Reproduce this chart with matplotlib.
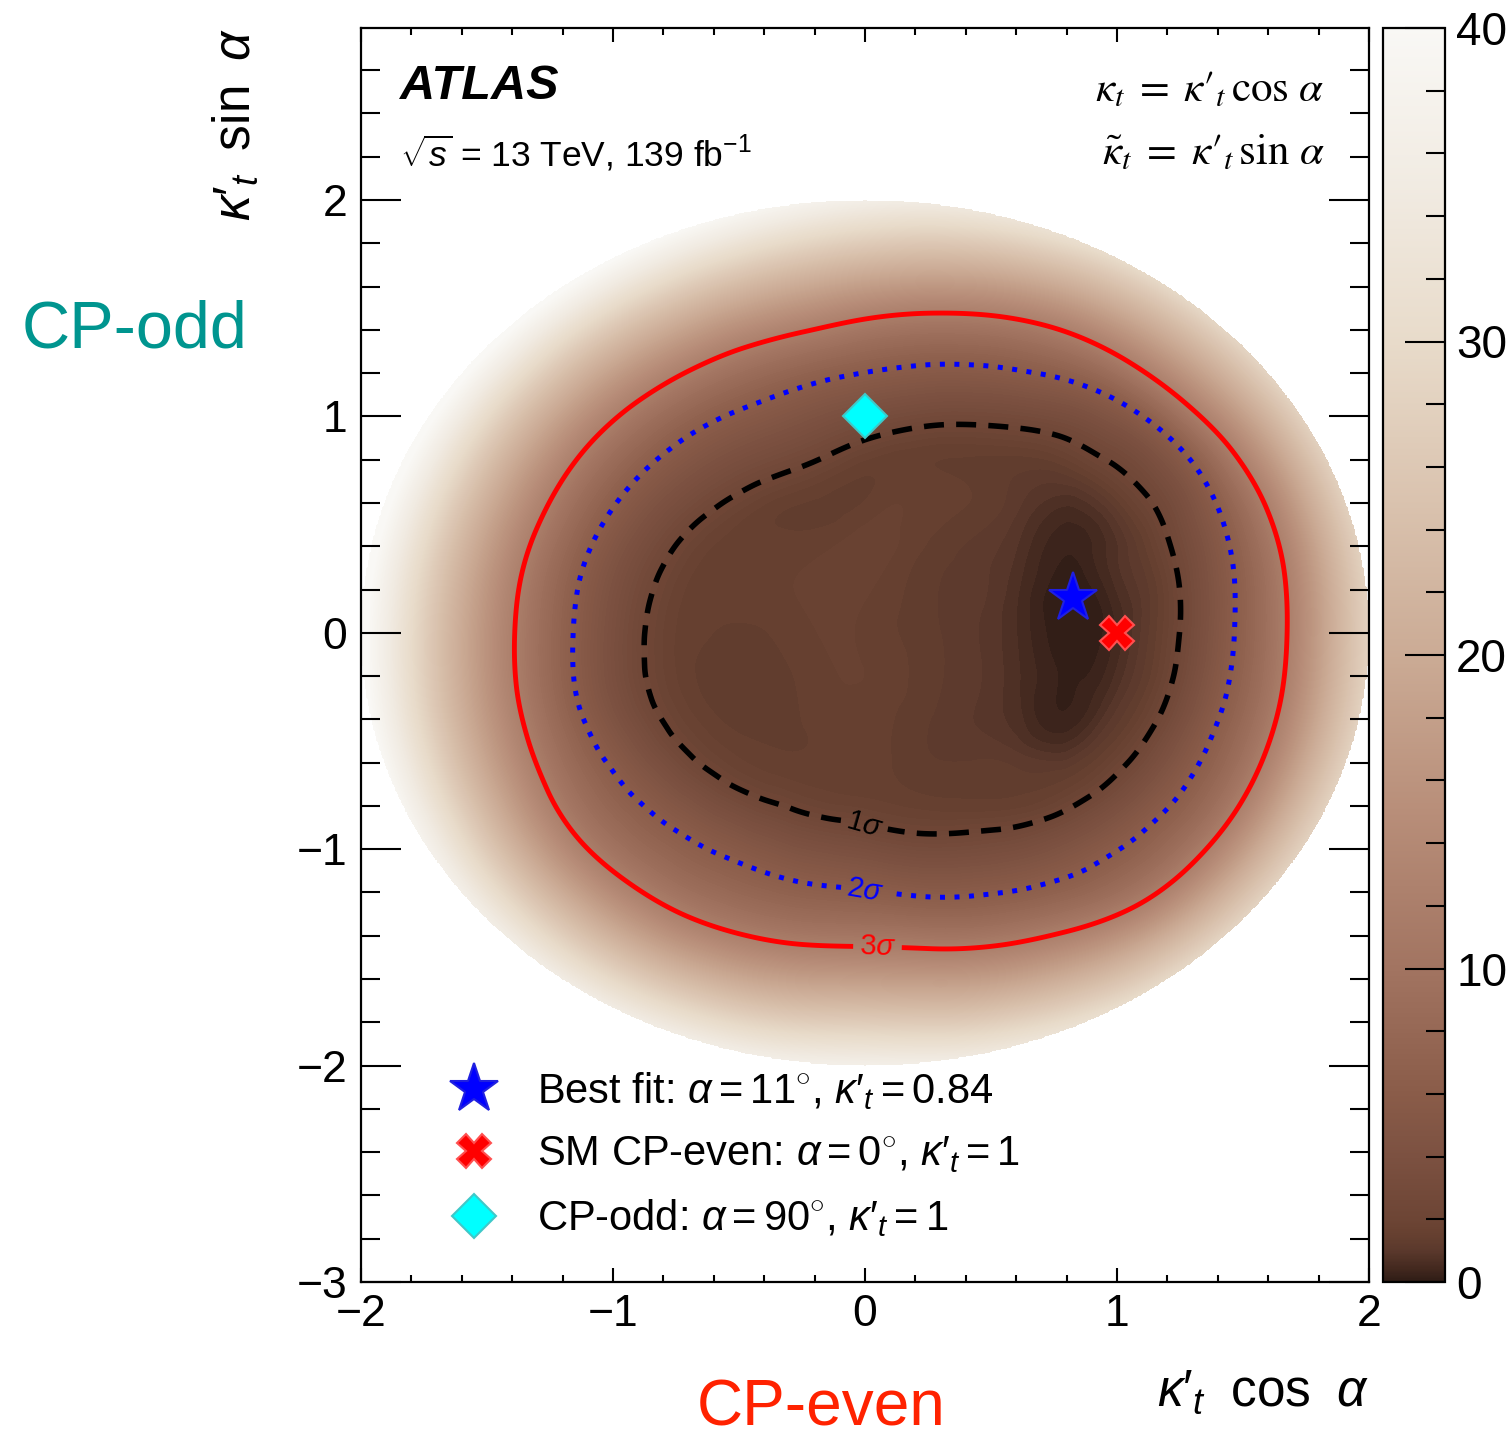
import numpy as np
import matplotlib
matplotlib.use("Agg")
import matplotlib.pyplot as plt
import matplotlib.tri as mtri
from matplotlib.path import Path
from matplotlib.colors import LinearSegmentedColormap, Normalize
from matplotlib.cm import ScalarMappable
from matplotlib.ticker import MultipleLocator

plt.rcParams['font.family'] = ['Liberation Sans', 'DejaVu Sans']
plt.rcParams['mathtext.fontset'] = 'custom'
plt.rcParams['mathtext.rm'] = 'Liberation Sans'
plt.rcParams['mathtext.it'] = 'Liberation Sans:italic'
plt.rcParams['mathtext.bf'] = 'Liberation Sans:bold'

# ---------------- data ----------------
# scan direction alpha (deg) and the kappa'_t radius where -2 dlnL crosses each level
alpha_deg = np.arange(0, 360, 10)
r_1sigma = [1.248, 1.266, 1.280, 1.285, 1.246, 1.190, 1.100, 1.025, 0.955, 0.892, 0.834, 0.806,
            0.810, 0.820, 0.835, 0.851, 0.860, 0.866, 0.874, 0.888, 0.901, 0.900, 0.894, 0.884,
            0.872, 0.863, 0.870, 0.884, 0.935, 0.987, 1.050, 1.120, 1.170, 1.203, 1.226, 1.240]
r_2sigma = [1.466, 1.488, 1.511, 1.520, 1.497, 1.452, 1.383, 1.316, 1.255, 1.203, 1.170, 1.147,
            1.146, 1.149, 1.152, 1.155, 1.158, 1.158, 1.158, 1.174, 1.186, 1.188, 1.189, 1.183,
            1.177, 1.176, 1.180, 1.188, 1.236, 1.292, 1.353, 1.405, 1.435, 1.455, 1.457, 1.462]
r_3sigma = [1.675, 1.688, 1.694, 1.683, 1.656, 1.632, 1.604, 1.556, 1.500, 1.450, 1.412, 1.402,
            1.398, 1.399, 1.399, 1.393, 1.389, 1.389, 1.390, 1.405, 1.425, 1.455, 1.483, 1.488,
            1.489, 1.478, 1.462, 1.450, 1.482, 1.538, 1.595, 1.656, 1.680, 1.686, 1.683, 1.678]
# -2 dlnL just inside the 1 sigma line, midway between 3 sigma and kappa'=2, and at kappa'=2
nll_inner_ring = [1.2, 1.2, 1.25, 1.3, 1.35, 1.45, 1.5, 1.5, 1.5, 1.5, 1.5, 1.5,
                  1.5, 1.55, 1.6, 1.6, 1.6, 1.6, 1.6, 1.6, 1.6, 1.6, 1.6, 1.6,
                  1.6, 1.6, 1.6, 1.6, 1.6, 1.55, 1.5, 1.45, 1.4, 1.3, 1.25, 1.2]
nll_outer_mid = [19.5, 19.3, 19.2, 19.3, 19.6, 19.9, 20.2, 21.0, 22.0, 23.0, 23.6, 24.0,
                 24.2, 24.2, 24.3, 24.4, 24.5, 24.5, 24.4, 24.0, 23.5, 23.0, 22.5, 22.2,
                 22.2, 22.4, 22.7, 23.0, 22.2, 21.3, 20.4, 19.8, 19.4, 19.3, 19.3, 19.4]
nll_edge = [28.5, 28.2, 28.0, 28.3, 28.9, 29.6, 30.5, 32.5, 34.5, 36.5, 38.5, 40.0,
            40.8, 41.2, 41.4, 41.6, 41.8, 41.9, 41.8, 40.8, 39.5, 37.8, 36.3, 35.6,
            35.4, 35.8, 36.3, 36.8, 35.2, 33.0, 30.8, 29.3, 28.5, 28.2, 28.3, 28.4]
# interior structure inside the 1 sigma region
inner_x = [0.825, 0.80, 0.78, 0.78, 1.0, 1.0, 0.98, 0.6, 0.6, 0.6, 0.6,
           0.3, 0.3, 0.3, 0.2, 0.45, 0.45,
           -0.03, 0.0, -0.1, -0.35, -0.45, 0.15,
           -0.5, -0.65, -0.3, 0.05]
inner_y = [0.16, 0.45, -0.15, -0.45, 0.0, 0.3, -0.3, 0.2, -0.2, 0.55, -0.55,
           0.4, 0.0, -0.4, -0.65, 0.7, -0.7,
           0.5, 0.15, -0.2, 0.2, 0.45, 0.7,
           -0.25, 0.05, -0.55, -0.6]
inner_nll = [0.0, 0.3, 0.15, 0.35, 0.45, 0.75, 0.75, 0.65, 0.65, 1.0, 1.0,
             1.3, 1.2, 1.15, 1.3, 1.35, 1.3,
             1.55, 1.6, 1.6, 1.55, 1.5, 1.5,
             1.2, 1.45, 1.4, 1.45]

sigma_levels = [2.30, 6.18, 11.83]
sigma_names = [r'$\mathit{1}\sigma$', r'$\mathit{2}\sigma$', r'$\mathit{3}\sigma$']

# reference points: alpha (deg), kappa'_t
point_names = ['Best fit: $\\alpha = 11^{\\circ}$, $\\kappa\\prime_{t} = 0.84$',
               'SM CP-even: $\\alpha = 0^{\\circ}$, $\\kappa\\prime_{t} = 1$',
               'CP-odd: $\\alpha = 90^{\\circ}$, $\\kappa\\prime_{t} = 1$']
point_alpha = [11, 0, 90]
point_kappa = [0.84, 1.0, 1.0]

cbar_ticks = [0, 10, 20, 30, 40]
# colour palette (value -> colour)
pal_values = [0, 0.5, 1, 1.5, 2, 4, 6, 10, 15, 20, 25, 30, 35, 40]
pal_colors = ['#2e1c15', '#472b21', '#5b392c', '#664030', '#6d4535', '#7c5141', '#8a5c49',
              '#a27461', '#b88e79', '#cbab95', '#dac3af', '#e8dbca', '#f1ebe2', '#f9f8f5']

# ---------------- build the field ----------------
a = np.deg2rad(alpha_deg)
n = len(a)
r1, r2, r3 = np.array(r_1sigma), np.array(r_2sigma), np.array(r_3sigma)
r_edge_node = np.full(n, 2.0 / np.cos(np.pi / n))
ring_r = [r1 - 0.12, r1, r2, r3, (r3 + 2.0) / 2, r_edge_node]
ring_v = [np.array(nll_inner_ring), np.full(n, sigma_levels[0]), np.full(n, sigma_levels[1]),
          np.full(n, sigma_levels[2]), np.array(nll_outer_mid), np.array(nll_edge)]
nr = len(ring_r)
ix, iy = np.array(inner_x), np.array(inner_y)
px = np.concatenate([r * np.cos(a) for r in ring_r] + [ix])
py = np.concatenate([r * np.sin(a) for r in ring_r] + [iy])
pz = np.concatenate(ring_v + [np.array(inner_nll)])

# structured triangles between the rings
tris = []
for j in range(nr - 1):
    for i in range(n):
        i2 = (i + 1) % n
        p00, p01 = j * n + i, j * n + i2
        p10, p11 = (j + 1) * n + i, (j + 1) * n + i2
        tris.append([p00, p10, p11])
        tris.append([p00, p11, p01])
# Delaunay inside the innermost ring
sub_idx = np.concatenate([np.arange(n), nr * n + np.arange(len(ix))])
dt = mtri.Triangulation(px[sub_idx], py[sub_idx])
ring_path = Path(np.column_stack([px[:n], py[:n]]))
cent = np.column_stack([px[sub_idx][dt.triangles].mean(axis=1), py[sub_idx][dt.triangles].mean(axis=1)])
keep = ring_path.contains_points(cent)
tris.extend(sub_idx[dt.triangles[keep]].tolist())
tri = mtri.Triangulation(px, py, triangles=np.array(tris))

interp = mtri.CubicTriInterpolator(tri, pz, kind='min_E')
g = np.linspace(-2.0, 2.0, 701)
GX, GY = np.meshgrid(g, g)
Z = interp(GX, GY)
Z = np.ma.masked_where((GX**2 + GY**2) > 4.0, Z)
Zfill = np.ma.clip(Z, 0.0, 39.99)

cmap = LinearSegmentedColormap.from_list(
    'atlas_brown', [(v / 40.0, c) for v, c in zip(pal_values, pal_colors)], N=1024)
norm = Normalize(0, 40)

# ---------------- figure ----------------
fig = plt.figure(figsize=(15.12, 14.35), dpi=100)
ax = fig.add_axes([361 / 1512, 1 - 1282 / 1435, 1008 / 1512, 1254 / 1435])
cax = fig.add_axes([1383 / 1512, 1 - 1282 / 1435, 62 / 1512, 1254 / 1435])

cf = ax.contourf(GX, GY, Zfill, levels=np.linspace(0, 40, 201), cmap=cmap, norm=norm)

styles = [dict(colors='black', linewidths=4.0, linestyles=[(0, (3.6, 2.2))]),
          dict(colors='#0000ff', linewidths=3.6, linestyles=[(0, (1.0, 1.9))]),
          dict(colors='#ff0000', linewidths=3.5, linestyles=['solid'])]
label_pos = [(0.0, -0.88), (0.0, -1.19), (0.05, -1.44)]
for lev, name, st, lp in zip(sigma_levels, sigma_names, styles, label_pos):
    cs = ax.contour(GX, GY, Z, levels=[lev], **st)
    ax.clabel(cs, fmt={lev: name}, manual=[lp], inline=True, inline_spacing=6, fontsize=21)

# reference points
pa = np.deg2rad(point_alpha)
pk = np.array(point_kappa)
ptx, pty = pk * np.cos(pa), pk * np.sin(pa)
marker_styles = [dict(marker='*', markersize=37, color='#0000ff', markeredgecolor='#2020e0', markeredgewidth=1.5),
                 dict(marker='X', markersize=24, color='#ff0000', markeredgecolor='#ff5050', markeredgewidth=1.5),
                 dict(marker='D', markersize=22, color='#00ffff', markeredgecolor='#40c8c8', markeredgewidth=1.5)]
handles = []
for x, y, name, ms in zip(ptx, pty, point_names, marker_styles):
    h, = ax.plot([x], [y], linestyle='none', label=name, zorder=5, **ms)
    handles.append(h)

leg = ax.legend(handles=handles, loc='lower left', bbox_to_anchor=(0.081, 0.034),
                frameon=False, fontsize=30, handlelength=1.5, handletextpad=0.76,
                labelspacing=0.54, borderpad=0, borderaxespad=0)

ax.set_xlim(-2, 2)
ax.set_ylim(-3, 2.795)
ax.xaxis.set_major_locator(MultipleLocator(1))
ax.xaxis.set_minor_locator(MultipleLocator(0.2))
ax.yaxis.set_major_locator(MultipleLocator(1))
ax.yaxis.set_minor_locator(MultipleLocator(0.2))
ax.tick_params(which='both', direction='in', top=True, right=True, width=1.5, colors='black')
ax.tick_params(axis='x', which='major', length=10, pad=9, labelsize=32)
ax.tick_params(axis='x', which='minor', length=5)
ax.tick_params(axis='y', which='major', length=29, pad=10, labelsize=32)
ax.tick_params(axis='y', which='minor', length=14)
for s in ax.spines.values():
    s.set_linewidth(1.6)

ax.set_xlabel(r'$\kappa\prime_{t}\;$ cos $\;\alpha$', fontsize=37, loc='right')
ax.xaxis.set_label_coords(1.0, -0.068)
ax.set_ylabel(r'$\kappa\prime_{t}\:$ sin $\:\alpha$', fontsize=37, loc='top')
ax.yaxis.set_label_coords(-0.1, 1.0)

ax.text(0.039, 0.953, 'ATLAS', transform=ax.transAxes, fontsize=35,
        fontweight='bold', fontstyle='italic', va='center', ha='left')
ax.text(0.039, 0.900, r'$\sqrt{s}$ = 13 TeV, 139 fb$^{-1}$', transform=ax.transAxes,
        fontsize=25.5, va='center', ha='left')
ax.text(0.956, 0.9506, r'$\kappa_t\;=\;\kappa\prime_t\,\cos\,\alpha$', transform=ax.transAxes,
        fontsize=31, va='center', ha='right', math_fontfamily='stix')
ax.text(0.956, 0.900, r'$\tilde{\kappa}_t\;=\;\kappa\prime_t\,\sin\,\alpha$', transform=ax.transAxes,
        fontsize=31, va='center', ha='right', math_fontfamily='stix')

fig.text(22 / 1512, 1 - 330 / 1435, 'CP-odd', color='#00958f', fontsize=48, va='center', ha='left')
fig.text(697 / 1512, 1 - 1408 / 1435, 'CP-even', color='#ff2200', fontsize=46, va='center', ha='left')

sm = ScalarMappable(norm=norm, cmap=cmap)
cb = fig.colorbar(sm, cax=cax, ticks=cbar_ticks)
cb.outline.set_linewidth(1.6)
cax.yaxis.set_minor_locator(MultipleLocator(2))
cax.tick_params(which='both', direction='in', width=1.5, right=True, left=False)
cax.tick_params(which='major', length=29, pad=8, labelsize=33)
cax.tick_params(which='minor', length=14)
cb.set_ticklabels([str(t) for t in cbar_ticks])

fig.savefig('out.png', dpi=100, facecolor='white')
